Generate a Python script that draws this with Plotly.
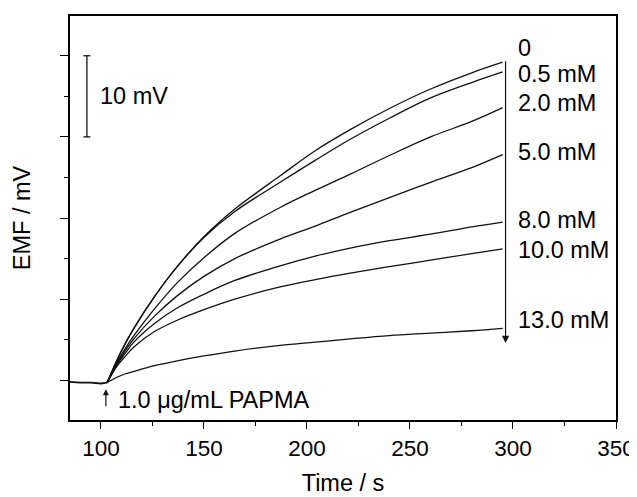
import plotly.graph_objects as go

# ---- data ----
baseline_t = [85, 90, 95, 100, 103]
baseline_emf = [-0.2, -0.3, -0.3, -0.4, -0.3]

t = [103, 108, 112, 116, 126, 137, 150, 165, 187, 204, 221, 240, 260, 280, 295]
emf_0 = [-0.3, 2.6, 4.6, 6.4, 10.3, 14.0, 17.7, 21.1, 25.2, 28.3, 30.9, 33.5, 35.9, 37.9, 39.2]
emf_05 = [-0.3, 2.6, 4.6, 6.4, 10.3, 14.0, 17.6, 20.8, 24.4, 27.1, 29.7, 32.3, 34.8, 36.7, 38.0]
emf_2 = [-0.3, 2.3, 4.0, 5.5, 8.8, 12.0, 15.1, 18.1, 21.3, 23.4, 25.4, 27.7, 30.0, 31.9, 33.6]
emf_5 = [-0.3, 2.1, 3.7, 5.1, 7.9, 10.4, 12.8, 15.0, 17.4, 19.0, 20.7, 22.5, 24.4, 26.2, 27.8]
emf_8 = [-0.3, 2.0, 3.4, 4.7, 7.0, 8.9, 10.6, 12.3, 14.1, 15.3, 16.3, 17.2, 18.0, 18.9, 19.5]
emf_10 = [-0.3, 1.8, 3.0, 4.1, 6.0, 7.4, 8.7, 10.0, 11.5, 12.4, 13.2, 14.0, 14.8, 15.6, 16.2]
emf_13 = [-0.3, 0.4, 0.8, 1.1, 1.8, 2.4, 3.0, 3.6, 4.3, 4.7, 5.1, 5.5, 5.8, 6.1, 6.4]

series = [emf_0, emf_05, emf_2, emf_5, emf_8, emf_10, emf_13]
labels = ["0", "0.5 mM", "2.0 mM", "5.0 mM", "8.0 mM", "10.0 mM", "13.0 mM"]
label_y = [41.0, 37.7, 34.2, 28.1, 19.8, 16.0, 7.4]

x_ticks = [100, 150, 200, 250, 300, 350]

FONT = "Liberation Sans, Arial, sans-serif"
LINE = "#111111"
FS = 23.5
TICK_FS = 22.5

fig = go.Figure()
fig.add_trace(go.Scatter(x=baseline_t, y=baseline_emf, mode="lines",
                         line=dict(color=LINE, width=1.8), showlegend=False))
for s in series:
    fig.add_trace(go.Scatter(x=t, y=s, mode="lines", line=dict(color=LINE, width=1.3, shape="spline"),
                             showlegend=False))

# concentration labels
for lab, ly in zip(labels, label_y):
    fig.add_annotation(x=301.5, y=ly, text=lab, showarrow=False, xanchor="left", yanchor="middle",
                       font=dict(size=FS, color="#000", family=FONT))

# downward arrow along the labels
fig.add_annotation(x=296.4, y=4.6, ax=296.4, ay=39.5, axref="x", ayref="y", xref="x", yref="y",
                   text="", showarrow=True, arrowhead=2, arrowsize=1.2, arrowwidth=1.2, arrowcolor=LINE)

# injection arrow + label
fig.add_annotation(x=102.4, y=-1.1, ax=102.4, ay=-3.4, axref="x", ayref="y", xref="x", yref="y",
                   text="", showarrow=True, arrowhead=2, arrowsize=1.0, arrowwidth=1.2, arrowcolor=LINE)
fig.add_annotation(x=107.5, y=-2.4, text="1.0 \u03bcg/mL PAPMA", showarrow=False, xanchor="left",
                   yanchor="middle", font=dict(size=FS, color="#000", family=FONT))

# scale bar 10 mV
fig.add_shape(type="line", x0=93.2, x1=93.2, y0=30, y1=40, line=dict(color=LINE, width=1.3))
fig.add_shape(type="line", x0=91.5, x1=94.9, y0=30, y1=30, line=dict(color=LINE, width=1.3))
fig.add_shape(type="line", x0=91.5, x1=94.9, y0=40, y1=40, line=dict(color=LINE, width=1.3))
fig.add_annotation(x=98.5, y=35.0, text="10 mV", showarrow=False, xanchor="left", yanchor="middle",
                   font=dict(size=FS, color="#000", family=FONT))

# page body has an 8px default margin, so the figure is sized/offset to compensate
fig.update_layout(
    width=629, height=489,
    margin=dict(l=62, r=21, t=8, b=77, autoexpand=False),
    paper_bgcolor="white", plot_bgcolor="white",
    font=dict(family=FONT, size=FS, color="#000"),
    showlegend=False,
)
fig.update_xaxes(range=[85, 350], tickvals=x_ticks, ticks="outside", ticklen=7, tickwidth=1.3,
                 tickcolor="#000", showline=True, linecolor="#000", linewidth=1.5, mirror=True,
                 showgrid=False, zeroline=False, tickfont=dict(size=TICK_FS), automargin=False,
                 ticklabeloverflow="allow",
                 minor=dict(tickvals=[125, 175, 225, 275, 325], ticks="outside", ticklen=4,
                            tickwidth=1.3, tickcolor="#000"),
                 title=dict(text="Time / s", font=dict(size=FS), standoff=15))
fig.update_yaxes(range=[-4.9, 44.9], tickvals=[0, 10, 20, 30, 40], ticks="outside", ticklen=8,
                 tickwidth=1.3, tickcolor="#000", showticklabels=False, showline=True,
                 linecolor="#000", linewidth=1.5, mirror=True, showgrid=False, zeroline=False,
                 automargin=False,
                 minor=dict(tickvals=[5, 15, 25, 35], ticks="outside", ticklen=4, tickwidth=1.3,
                            tickcolor="#000"),
                 title=dict(text="EMF / mV", font=dict(size=FS), standoff=23))

fig.write_html("out.html")
